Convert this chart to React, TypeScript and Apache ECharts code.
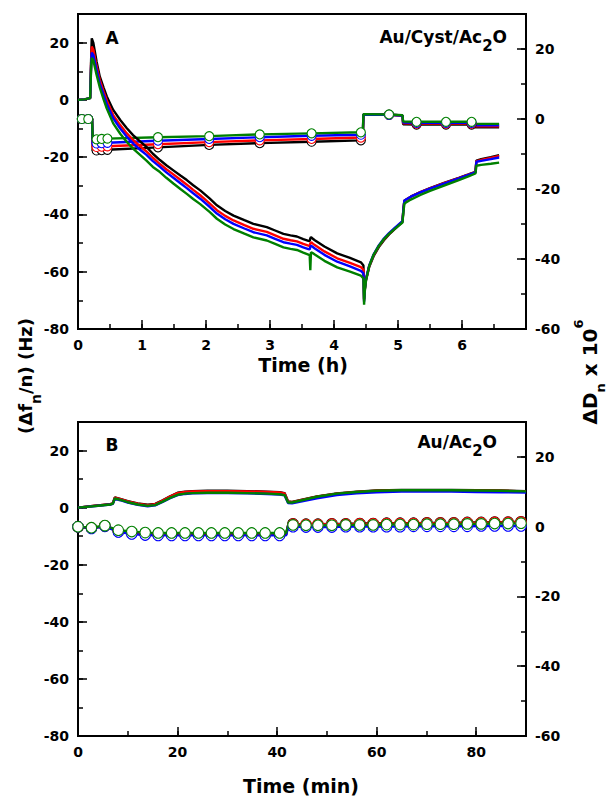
import React, { useEffect, useRef } from 'react';
import * as echarts from 'echarts';

const FONT = '"DejaVu Sans", Verdana, sans-serif';
const COLORS = ['#000000', '#ff0000', '#0000ff', '#008000'];

// ---------- Panel A: frequency (left axis, Hz) vs time (h)
const A_TIME_F = [
  0, 0.1, 0.19, 0.205, 0.215, 0.24, 0.29, 0.34, 0.4, 0.45,
  0.55, 0.66, 0.76, 0.86, 0.97, 1.07, 1.17, 1.28, 1.38, 1.49,
  1.6, 1.7, 1.8, 1.91, 2.06, 2.17, 2.3, 2.43, 2.6, 2.74,
  2.95, 3.08, 3.21, 3.32, 3.42, 3.52, 3.6, 3.62, 3.63, 3.64,
  3.66, 3.7, 3.85, 4.05, 4.25, 4.42, 4.46, 4.47, 4.48, 4.5,
  4.55, 4.62, 4.7, 4.78, 4.86, 4.94, 5.07, 5.085, 5.1, 5.2,
  5.35, 5.5, 5.72, 5.95, 6.1, 6.21, 6.225, 6.3, 6.45, 6.58,
];
const A_F_BLACK = [
  0, 0.2, 0.6, 14, 21.5, 19.9, 13.4, 8.2, 4.3, 1.2,
  -3.5, -7, -9.8, -12.3, -14.5, -16.4, -18.8, -21, -22.8, -24.6,
  -26.4, -28, -29.8, -31.6, -34.5, -36.8, -38.8, -40.4, -42, -43.3,
  -44.4, -45.6, -46.8, -47.3, -47.7, -48.6, -49.2, -49.3, -48.3, -47.9,
  -48.3, -49, -51.2, -53.6, -55.2, -56.7, -57.8, -69.5, -66.5, -63,
  -58.3, -54.5, -51.4, -49, -47, -45.3, -42.6, -38, -35.2, -33.8,
  -32.2, -30.8, -29, -27.2, -26, -25.1, -21.2, -20.7, -20, -19.3,
];
const A_F_RED = [
  0, 0.2, 0.6, 13, 18.6, 17.5, 11.8, 7.0, 3.0, -0.2,
  -5.3, -8.8, -11.6, -14, -16.2, -18, -20.2, -22.4, -24.2, -26,
  -27.9, -29.6, -31.4, -33.3, -36.2, -38.5, -40.5, -42.1, -43.7, -45,
  -46.1, -47.3, -48.5, -49, -49.4, -50.3, -50.9, -51, -50.1, -49.7,
  -50, -50.7, -52.9, -55.3, -56.9, -58.4, -59.3, -70, -66.3, -62.7,
  -58.1, -54.2, -51.1, -48.7, -46.8, -45.1, -42.4, -38.1, -35.2, -33.8,
  -32.2, -30.9, -29.1, -27.3, -26.1, -25.2, -21.4, -21, -20.3, -19.6,
];
const A_F_BLUE = [
  0, 0.2, 0.6, 12, 16.5, 15.6, 10.6, 5.8, 1.8, -1.4,
  -6.4, -10, -12.8, -15.2, -17.4, -19.2, -21.4, -23.4, -25.3, -27.2,
  -29.1, -30.8, -32.6, -34.5, -37.4, -39.7, -41.7, -43.3, -44.9, -46.2,
  -47.3, -48.5, -49.7, -50.2, -50.6, -51.5, -52.1, -52.2, -51.3, -50.9,
  -51.2, -51.9, -54.1, -56.5, -58.1, -59.7, -60.6, -70.5, -66.2, -62.5,
  -57.8, -53.9, -50.8, -48.4, -46.5, -44.9, -42.3, -38, -35.1, -33.8,
  -32.3, -31, -29.2, -27.4, -26.2, -25.3, -21.6, -21.3, -20.7, -20.1,
];
const A_F_GREEN = [
  0, 0.2, 0.6, 11, 14.7, 13.8, 8.8, 4.4, 0.2, -3,
  -8.2, -11.8, -14.6, -17, -19.2, -21.2, -23.4, -25.2, -27.2, -29.2,
  -31.1, -32.8, -34.6, -36.4, -39.2, -41.5, -43.5, -45.1, -46.7, -48,
  -49.1, -50.3, -51.5, -52, -52.4, -53.3, -54, -54.3, -59.5, -53.2,
  -53.4, -54, -56.2, -58.5, -60, -61.4, -62.3, -71.5, -67, -63,
  -58, -54, -51, -48.6, -46.8, -45.2, -42.8, -39, -36.2, -34.8,
  -33.2, -31.8, -29.9, -28, -26.7, -25.7, -23, -22.7, -22.3, -21.9,
];

// ---------- Panel A: dissipation (right axis, x10^6) vs time (h)
const A_TIME_D = [
  0, 0.06, 0.16, 0.22, 0.23, 0.29, 0.37, 0.46, 1.25, 2.05,
  2.84, 3.65, 4.42, 4.45, 4.46, 4.86, 5.07, 5.08, 5.29, 5.75,
  6.15, 6.19, 6.2, 6.58,
];
const A_D_MARK = [
  0, 1, 1, 0, 0, 1, 1, 1, 1, 1,
  1, 1, 1, 0, 0, 1, 0, 0, 1, 1,
  1, 0, 0, 0,
];
const A_D_BLACK = [
  0, 0, 0, 0, -9.0, -9.0, -8.9, -8.8, -8.1, -7.4,
  -6.9, -6.5, -6.1, -6.0, 1.3, 1.2, 1.0, -1.5, -1.6, -1.6,
  -1.6, -1.6, -2.4, -2.4,
];
const A_D_RED = [
  0, 0, 0, 0, -8.0, -8.0, -7.9, -7.8, -7.2, -6.6,
  -6.1, -5.7, -5.3, -5.2, 1.3, 1.2, 1.0, -1.2, -1.3, -1.3,
  -1.3, -1.3, -2.1, -2.1,
];
const A_D_BLUE = [
  0, 0, 0, 0, -7.0, -7.0, -6.9, -6.8, -6.2, -5.7,
  -5.2, -4.8, -4.5, -4.4, 1.3, 1.2, 1.0, -1.0, -1.1, -1.1,
  -1.1, -1.1, -1.8, -1.8,
];
const A_D_GREEN = [
  0, 0, 0, 0, -5.8, -5.8, -5.7, -5.6, -5.2, -4.9,
  -4.4, -4.1, -3.8, -3.7, 1.4, 1.3, 1.1, -0.7, -0.8, -0.8,
  -0.8, -0.8, -1.4, -1.4,
];

// ---------- Panel B: frequency (left axis, Hz) vs time (min)
const B_TIME_F = [
  0, 3, 6.5, 7.0, 7.4, 8.5, 10, 12, 14, 15.5,
  17, 18.5, 20, 21.5, 23, 26, 30, 34, 38, 40.5,
  41.5, 42.2, 43, 45, 48, 52, 56, 60, 65, 70,
  75, 80, 85, 90,
];
const B_F_BLACK = [
  0, 0.6, 1.2, 1.5, 3.6, 3.1, 2.3, 1.5, 1.0, 1.3,
  2.6, 4.0, 5.2, 5.6, 5.8, 5.9, 5.9, 5.8, 5.6, 5.4,
  5.1, 2.2, 2.0, 2.8, 3.9, 5.0, 5.6, 6.0, 6.2, 6.2,
  6.2, 6.1, 6.0, 5.8,
];
const B_F_RED = [
  0, 0.6, 1.2, 1.5, 3.5, 3.0, 2.2, 1.4, 0.9, 1.2,
  2.5, 3.9, 5.1, 5.5, 5.7, 5.8, 5.8, 5.7, 5.5, 5.3,
  5.0, 2.1, 1.9, 2.7, 3.8, 4.9, 5.5, 5.9, 6.1, 6.1,
  6.1, 6.0, 5.9, 5.7,
];
const B_F_BLUE = [
  0, 0.5, 1.1, 1.3, 3.1, 2.6, 1.8, 1.0, 0.5, 0.8,
  2.0, 3.3, 4.4, 4.8, 5.0, 5.1, 5.1, 5.0, 4.8, 4.6,
  4.3, 1.6, 1.5, 2.2, 3.3, 4.4, 5.0, 5.4, 5.6, 5.6,
  5.6, 5.5, 5.4, 5.3,
];
const B_F_GREEN = [
  0, 0.5, 1.1, 1.4, 3.2, 2.7, 1.9, 1.1, 0.6, 0.9,
  2.1, 3.4, 4.5, 4.9, 5.1, 5.2, 5.2, 5.1, 4.9, 4.7,
  4.4, 1.8, 1.8, 2.6, 3.8, 4.9, 5.5, 5.9, 6.1, 6.1,
  6.1, 6.0, 5.9, 5.7,
];

// ---------- Panel B: dissipation (right axis, x10^6) vs time (min)
const B_TIME_D = [
  0, 2.7, 5.4, 8.1, 10.8, 13.5, 16.1, 18.8, 21.5, 24.2,
  26.8, 29.5, 32.2, 34.9, 37.6, 40.5, 41.8, 42.3, 43.2, 45.8,
  48.2, 51.0, 53.8, 56.6, 59.3, 62.0, 64.7, 67.4, 70.1, 72.8,
  75.5, 78.2, 81.0, 83.7, 86.4, 89.0, 90,
];
const B_D_MARK = [
  1, 1, 1, 1, 1, 1, 1, 1, 1, 1,
  1, 1, 1, 1, 1, 1, 0, 0, 1, 1,
  1, 1, 1, 1, 1, 1, 1, 1, 1, 1,
  1, 1, 1, 1, 1, 1, 0,
];
const B_D_BLACK = [
  0, -0.4, 0.2, -1.4, -1.9, -2.2, -2.3, -2.3, -2.3, -2.3,
  -2.3, -2.3, -2.3, -2.3, -2.3, -2.3, -2.3, 1.0, 0.8, 0.7,
  0.7, 0.8, 0.8, 0.9, 0.9, 1.0, 1.0, 1.0, 1.1, 1.1,
  1.1, 1.2, 1.2, 1.3, 1.3, 1.4, 1.4,
];
const B_D_RED = [
  0, -0.4, 0.2, -1.3, -1.8, -2.1, -2.2, -2.2, -2.2, -2.2,
  -2.2, -2.2, -2.2, -2.2, -2.2, -2.2, -2.2, 0.9, 0.7, 0.6,
  0.6, 0.7, 0.7, 0.8, 0.8, 0.9, 0.9, 0.9, 1.0, 1.0,
  1.0, 1.1, 1.1, 1.2, 1.2, 1.3, 1.3,
];
const B_D_BLUE = [
  0, -0.5, 0.1, -1.5, -2.1, -2.4, -2.5, -2.5, -2.5, -2.5,
  -2.5, -2.5, -2.5, -2.5, -2.5, -2.5, -2.5, 0.3, 0.0, -0.1,
  -0.1, -0.1, 0.0, 0.0, 0.0, 0.0, 0.0, 0.1, 0.1, 0.1,
  0.1, 0.1, 0.2, 0.2, 0.2, 0.2, 0.2,
];
const B_D_GREEN = [
  0, -0.3, 0.3, -1.0, -1.4, -1.7, -1.8, -1.8, -1.8, -1.8,
  -1.8, -1.8, -1.8, -1.8, -1.8, -1.8, -1.8, 0.8, 0.5, 0.4,
  0.4, 0.4, 0.5, 0.5, 0.5, 0.6, 0.6, 0.6, 0.7, 0.7,
  0.7, 0.8, 0.8, 0.9, 0.9, 1.0, 1.0,
];

const labelStyle = {
  color: '#000',
  fontFamily: FONT,
  fontWeight: 'bold' as const,
  fontSize: 14,
};

function axis(
  gridIndex: number,
  min: number,
  max: number,
  interval: number,
  tickLen: number,
  labelStep: number | null,
  extra: any,
) {
  return {
    type: 'value',
    gridIndex,
    min,
    max,
    interval,
    axisLine: { show: labelStep !== null, onZero: false, lineStyle: { color: '#000', width: 2 } },
    axisTick: { show: true, inside: true, length: tickLen, lineStyle: { color: '#000', width: 1.5 } },
    axisLabel:
      labelStep === null
        ? { show: false }
        : {
            show: true,
            margin: 9,
            ...labelStyle,
            formatter: (v: number) => {
              const r = Math.abs(v / labelStep - Math.round(v / labelStep));
              return r < 1e-6 && v < max ? String(v) : '';
            },
          },
    splitLine: { show: false },
    ...extra,
  };
}

function freqSeries(name: string, t: number[], v: number[], color: string, xi: number, yi: number) {
  return {
    name,
    type: 'line',
    xAxisIndex: xi,
    yAxisIndex: yi,
    data: t.map((x, i) => [x, v[i]]),
    showSymbol: false,
    symbol: 'none',
    lineStyle: { color, width: 2.4 },
    itemStyle: { color },
    z: 3,
  };
}

function dissSeries(
  name: string,
  t: number[],
  v: number[],
  marks: number[],
  color: string,
  xi: number,
  yi: number,
  size: number,
) {
  return {
    name,
    type: 'line',
    xAxisIndex: xi,
    yAxisIndex: yi,
    data: t.map((x, i) => ({ value: [x, v[i]], symbol: marks[i] ? 'circle' : 'none' })),
    showSymbol: true,
    showAllSymbol: true,
    symbol: 'circle',
    symbolSize: size,
    lineStyle: { color, width: 2.4 },
    itemStyle: { color: '#ffffff', borderColor: color, borderWidth: 1.1 },
    z: 2,
  };
}

const richMain = (size: number) => ({
  fontSize: size,
  fontWeight: 'bold',
  fontFamily: FONT,
  font: `bold ${size}px ${FONT}`,
  fill: '#000',
  verticalAlign: 'middle',
});

function buildOption() {
  const names = ['n=3', 'n=5', 'n=7', 'n=9'];
  const aF = [A_F_BLACK, A_F_RED, A_F_BLUE, A_F_GREEN];
  const aD = [A_D_BLACK, A_D_RED, A_D_BLUE, A_D_GREEN];
  const bF = [B_F_BLACK, B_F_RED, B_F_BLUE, B_F_GREEN];
  const bD = [B_D_BLACK, B_D_RED, B_D_BLUE, B_D_GREEN];
  const series: any[] = [];
  for (let i = 0; i < 4; i++) series.push(dissSeries('A D ' + names[i], A_TIME_D, aD[i], A_D_MARK, COLORS[i], 0, 1, 9));
  for (let i = 0; i < 4; i++) series.push(freqSeries('A f ' + names[i], A_TIME_F, aF[i], COLORS[i], 0, 0));
  for (let i = 0; i < 4; i++) series.push(dissSeries('B D ' + names[i], B_TIME_D, bD[i], B_D_MARK, COLORS[i], 1, 3, 10.5));
  for (let i = 0; i < 4; i++) series.push(freqSeries('B f ' + names[i], B_TIME_F, bF[i], COLORS[i], 1, 2));

  const text = (x: number, y: number, str: string, size: number, align: string) => ({
    type: 'text',
    x,
    y,
    style: {
      text: str,
      fill: '#000',
      font: `bold ${size}px ${FONT}`,
      fontSize: size,
      fontWeight: 'bold',
      fontFamily: FONT,
      align,
      verticalAlign: 'middle',
    },
    z: 10,
  });

  const richText = (x: number, y: number, str: string, rich: any, align: string, rotation = 0) => ({
    type: 'text',
    x,
    y,
    rotation,
    style: {
      text: str,
      rich,
      fill: '#000',
      font: `bold 17px ${FONT}`,
      align,
      verticalAlign: 'middle',
    },
    z: 10,
  });

  const subRich = (mainSize: number, subSize: number, pad: number) => ({
    m: richMain(mainSize),
    s: { ...richMain(subSize), padding: [pad, 0, 0, 0] },
  });

  return {
    animation: false,
    backgroundColor: '#ffffff',
    grid: [
      { left: 78, top: 14, width: 448, height: 315, show: true, borderColor: '#000', borderWidth: 2, backgroundColor: 'transparent' },
      { left: 78, top: 422, width: 448, height: 314, show: true, borderColor: '#000', borderWidth: 2, backgroundColor: 'transparent' },
    ],
    xAxis: [
      axis(0, 0, 7, 0.5, 5, 1, { position: 'bottom' }),
      axis(1, 0, 90, 10, 5, 20, { position: 'bottom' }),
      axis(0, 0, 7, 1, 9, null, { position: 'bottom' }),
      axis(1, 0, 90, 20, 9, null, { position: 'bottom' }),
    ],
    yAxis: [
      axis(0, -80, 30, 10, 5, 20, { position: 'left' }),
      axis(0, -60, 30, 10, 5, 20, { position: 'right' }),
      axis(1, -80, 30, 10, 5, 20, { position: 'left' }),
      axis(1, -60, 30, 10, 5, 20, { position: 'right' }),
      axis(0, -80, 30, 20, 9, null, { position: 'left' }),
      axis(0, -60, 30, 20, 9, null, { position: 'right' }),
      axis(1, -80, 30, 20, 9, null, { position: 'left' }),
      axis(1, -60, 30, 20, 9, null, { position: 'right' }),
    ],
    series,
    graphic: [
      text(112, 38, 'A', 17, 'center'),
      text(112, 445, 'B', 17, 'center'),
      richText(507, 37, '{m|Au/Cyst/Ac}{s|2}{m|O}', subRich(17, 15, 18), 'right'),
      richText(497, 442, '{m|Au/Ac}{s|2}{m|O}', subRich(17, 15, 18), 'right'),
      text(303, 365, 'Time (h)', 19, 'center'),
      text(301, 786, 'Time (min)', 19, 'center'),
      richText(25, 376, '{m|(\u0394f}{s|n}{m|/n) (Hz)}', subRich(18, 14, 22), 'center', Math.PI / 2),
      richText(
        590,
        372,
        '{m|\u0394D}{s|n}{m| x 10}{p|6}',
        {
          m: richMain(20),
          s: { ...richMain(13), padding: [20, 0, 0, 0] },
          p: { ...richMain(13), padding: [0, 0, 24, 0] },
        },
        'center',
        Math.PI / 2,
      ),
    ],
  };
}

export default function App() {
  const ref = useRef<HTMLDivElement>(null);
  useEffect(() => {
    if (!ref.current) return;
    const chart = echarts.init(ref.current, null, { renderer: 'svg' });
    chart.setOption(buildOption() as any);
    return () => chart.dispose();
  }, []);
  return (
    <div
      ref={ref}
      style={{ position: 'fixed', left: 0, top: 0, width: 608, height: 798, background: '#ffffff' }}
    />
  );
}
